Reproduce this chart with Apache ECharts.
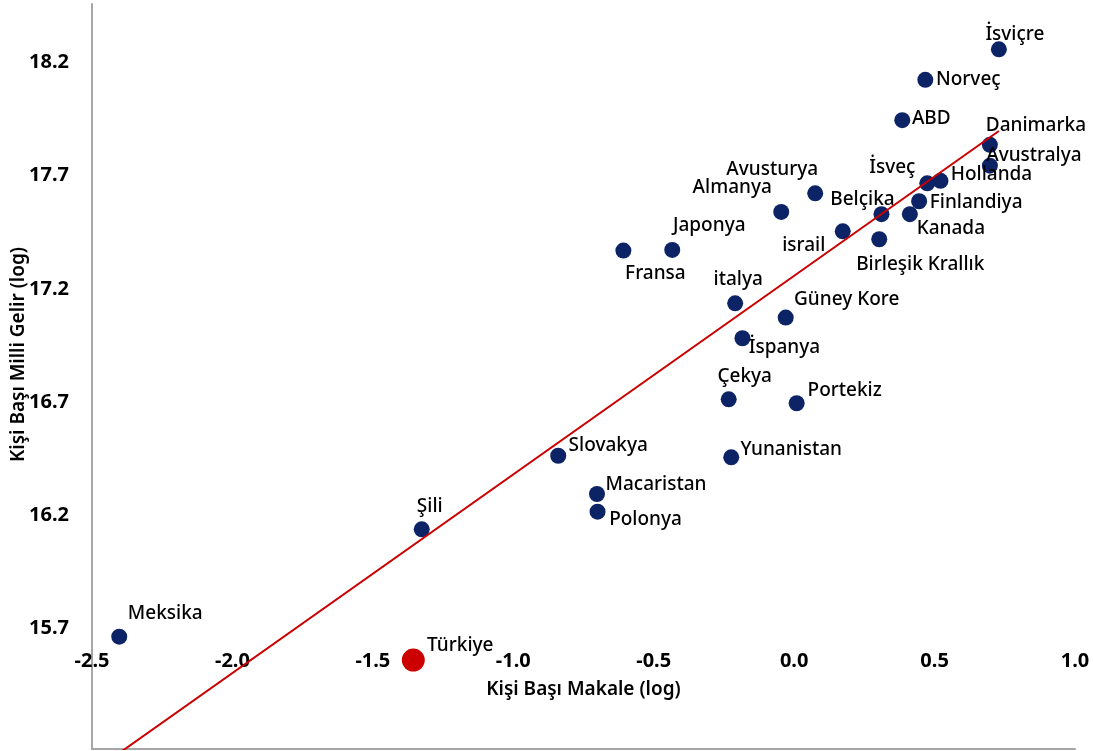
<!DOCTYPE html>
<html>
<head>
<meta charset="utf-8">
<script src="https://cdn.jsdelivr.net/npm/echarts@6/dist/echarts.min.js"></script>
<style>
  html, body { margin: 0; padding: 0; background: #fff; }
  #chart { width: 1093px; height: 751px; }
</style>
</head>
<body>
<div id="chart"></div>
<script>
// OECD countries: articles per capita (log) vs. national income per capita (log)
const countries = [
  'İsviçre', 'Norveç', 'ABD', 'Danimarka', 'Avustralya', 'İsveç', 'Hollanda',
  'Finlandiya', 'Kanada', 'Belçika', 'Birleşik Krallık', 'Avusturya', 'Almanya',
  'israil', 'Japonya', 'Fransa', 'italya', 'Güney Kore', 'İspanya', 'Çekya',
  'Portekiz', 'Slovakya', 'Yunanistan', 'Macaristan', 'Polonya', 'Şili',
  'Meksika', 'Türkiye'
];
const articlesLog = [
  0.729, 0.467, 0.385, 0.697, 0.697, 0.474, 0.521,
  0.445, 0.412, 0.311, 0.303, 0.075, -0.046,
  0.173, -0.434, -0.608, -0.210, -0.030, -0.184, -0.233,
  0.009, -0.840, -0.224, -0.702, -0.700, -1.326,
  -2.403, -1.356
];
const incomeLog = [
  18.258, 18.123, 17.945, 17.836, 17.744, 17.666, 17.677,
  17.587, 17.530, 17.530, 17.419, 17.622, 17.540,
  17.454, 17.372, 17.369, 17.136, 17.073, 16.982, 16.712,
  16.695, 16.463, 16.456, 16.294, 16.216, 16.138,
  15.664, 15.561
];
const highlightCountry = 'Türkiye';
const xTickStep = 0.5;
const yTickValues = [15.7, 16.2, 16.7, 17.2, 17.7, 18.2];

// where each country name sits relative to its marker (label centre offset, px)
const labelOffsets = {
  'İsviçre': [16, -15], 'Norveç': [43, 0], 'ABD': [29, -2], 'Danimarka': [46, -19],
  'Avustralya': [44, -10], 'İsveç': [-35, -16], 'Hollanda': [51, -6],
  'Finlandiya': [57, 1], 'Kanada': [41, 14], 'Belçika': [-19, -15],
  'Birleşik Krallık': [41, 25], 'Avusturya': [-43, -24], 'Almanya': [-49, -24],
  'israil': [-39, 14], 'Japonya': [37, -24], 'Fransa': [32, 23], 'italya': [3, -24],
  'Güney Kore': [61, -18], 'İspanya': [42, 9], 'Çekya': [16, -23],
  'Portekiz': [48, -13], 'Slovakya': [50, -10], 'Yunanistan': [60, -8],
  'Macaristan': [59, -9], 'Polonya': [48, 8], 'Şili': [8, -23],
  'Meksika': [46, -23], 'Türkiye': [47, -14]
};

// least-squares trend line over all countries
const n = articlesLog.length;
const mx = articlesLog.reduce((s, v) => s + v, 0) / n;
const my = incomeLog.reduce((s, v) => s + v, 0) / n;
let sxy = 0, sxx = 0;
for (let i = 0; i < n; i++) {
  sxy += (articlesLog[i] - mx) * (incomeLog[i] - my);
  sxx += (articlesLog[i] - mx) * (articlesLog[i] - mx);
}
const slope = sxy / sxx;
const intercept = my - slope * mx;
const xMin = Math.min(...articlesLog);
const xMax = Math.max(...articlesLog);
const trendData = [[xMin, intercept + slope * xMin], [xMax, intercept + slope * xMax]];

const FONT = 'Noto Sans';
function point(i) {
  return {
    name: countries[i],
    value: [articlesLog[i], incomeLog[i]],
    label: { offset: labelOffsets[countries[i]] || [0, 0] }
  };
}
const mainData = [], highlightData = [];
countries.forEach((c, i) => (c === highlightCountry ? highlightData : mainData).push(point(i)));

const labelStyle = {
  show: true,
  position: 'inside',
  formatter: '{b}',
  fontFamily: FONT,
  fontSize: 19,
  fontWeight: 500,
  color: '#000'
};

const chart = echarts.init(document.getElementById('chart'), null, { renderer: 'canvas' });
chart.setOption({
  animation: false,
  backgroundColor: '#fff',
  grid: { left: 92, right: 18, top: 4, bottom: 2, containLabel: false, outerBoundsMode: 'none' },
  xAxis: [
    {
      type: 'value', min: -2.5, max: 1.0, interval: xTickStep, position: 'bottom',
      axisLine: { show: true, onZero: false, lineStyle: { color: '#a6a6a6', width: 2 } },
      axisTick: { show: false }, axisLabel: { show: false }, splitLine: { show: false }
    },
    {
      type: 'value', min: -2.5, max: 1.0, interval: xTickStep, position: 'bottom', offset: -98,
      axisLine: { show: false, onZero: false }, axisTick: { show: false }, splitLine: { show: false },
      axisLabel: {
        margin: 0, fontFamily: FONT, fontSize: 20, fontWeight: 'bold', color: '#000',
        formatter: v => v.toFixed(1)
      },
      name: 'Kişi Başı Makale (log)', nameLocation: 'middle', nameGap: 29, nameMoveOverlap: false,
      nameTextStyle: { fontFamily: FONT, fontSize: 19, fontWeight: 600, color: '#000' }
    }
  ],
  yAxis: {
    type: 'value', min: 15.168, max: 18.458, position: 'left',
    axisLine: { show: true, onZero: false, lineStyle: { color: '#a6a6a6', width: 2 } },
    axisTick: { show: false }, splitLine: { show: false },
    axisLabel: {
      customValues: yTickValues, margin: 23,
      fontFamily: FONT, fontSize: 20, fontWeight: 'bold', color: '#000',
      formatter: v => v.toFixed(1)
    },
    name: 'Kişi Başı Milli Gelir (log)', nameLocation: 'middle', nameGap: 64, nameRotate: 90,
    nameMoveOverlap: false,
    nameTextStyle: { fontFamily: FONT, fontSize: 19, fontWeight: 600, color: '#000', padding: [0, 0, 0, 44] }
  },
  series: [
    {
      name: 'OECD', type: 'scatter', xAxisIndex: 0, symbolSize: 16,
      itemStyle: { color: '#0c2366', opacity: 1 },
      label: labelStyle, data: mainData, z: 2
    },
    {
      name: highlightCountry, type: 'scatter', xAxisIndex: 0, symbolSize: 23,
      itemStyle: { color: '#cc0000', opacity: 1 },
      label: labelStyle, data: highlightData, z: 2
    },
    {
      name: 'Eğilim', type: 'line', xAxisIndex: 0, data: trendData,
      showSymbol: false, symbol: 'none', clip: true,
      lineStyle: { color: '#cc0000', width: 2 }, z: 3, silent: true
    }
  ]
});
</script>
</body>
</html>
